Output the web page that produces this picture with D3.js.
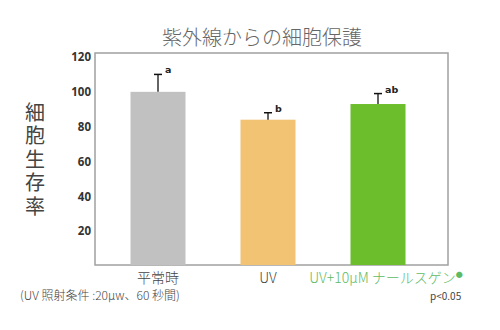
<!DOCTYPE html>
<html lang="ja">
<head>
<meta charset="utf-8" />
<script src="https://cdn.jsdelivr.net/npm/d3@7"></script>
<style>
  body { margin: 0; background: #fff; }
  svg text { font-family: "Noto Sans CJK JP", "Noto Sans", sans-serif; }
  .tick-lbl { font-family: "Open Sans", "DejaVu Sans", sans-serif; font-weight: 700; font-size: 11.5px; fill: #333; }
</style>
</head>
<body>
<div id="chart"></div>
<script>
// data
var categories = ["平常時", "UV", "UV+10μM ナールスゲン"];
var values = [100, 84, 93];
var errors = [10, 4, 6];
var sigLetters = ["a", "b", "ab"];
var barColors = ["#c1c1c1", "#f1c373", "#6dbe2d"];
var yTicks = [20, 40, 60, 80, 100, 120];

var width = 500, height = 330;

var svg = d3.select("#chart")
  .append("svg")
  .attr("width", width)
  .attr("height", height);

var x = d3.scaleBand()
  .domain(categories)
  .range([103, 433])
  .paddingInner(0.5)
  .paddingOuter(0.25);

var y = d3.scaleLinear()
  .domain([0, 120])
  .range([266, 57]);

// title
svg.append("text")
  .attr("x", 262).attr("y", 45)
  .attr("text-anchor", "middle")
  .style("font-size", "20px")
  .style("font-weight", "300")
  .style("fill", "#666")
  .text("紫外線からの細胞保護");

// frame
svg.append("rect")
  .attr("x", 95).attr("y", 53)
  .attr("width", 353).attr("height", 212)
  .attr("fill", "none")
  .attr("stroke", "#a0a0a0")
  .attr("stroke-width", 1.5);

// y tick labels
var yAxis = d3.axisLeft(y).tickValues(yTicks).tickSize(0).tickPadding(0);
var gy = svg.append("g")
  .attr("transform", "translate(91,0)")
  .call(yAxis);
gy.select(".domain").remove();
gy.selectAll("text").attr("class", "tick-lbl").attr("font-family", null).attr("font-size", null);

// y label, written vertically
svg.append("text")
  .attr("x", 35).attr("y", 102)
  .style("writing-mode", "vertical-rl")
  .style("letter-spacing", "3.5px")
  .style("font-size", "20px")
  .style("fill", "#444")
  .text("細胞生存率");

// bars
svg.selectAll("rect.bar")
  .data(values)
  .enter().append("rect")
  .attr("class", "bar")
  .attr("x", function(d, i) { return x(categories[i]); })
  .attr("width", x.bandwidth())
  .attr("y", function(d) { return y(d); })
  .attr("height", function(d) { return y(0) - y(d) - 1; })
  .attr("fill", function(d, i) { return barColors[i]; });

// error bars
var eb = svg.append("g").selectAll("g")
  .data(values)
  .enter().append("g");
eb.append("line")
  .attr("x1", function(d, i) { return x(categories[i]) + x.bandwidth() / 2; })
  .attr("x2", function(d, i) { return x(categories[i]) + x.bandwidth() / 2; })
  .attr("y1", function(d) { return y(d); })
  .attr("y2", function(d, i) { return y(d + errors[i]); })
  .attr("stroke", "#111").attr("stroke-width", 1.3);
eb.append("line")
  .attr("x1", function(d, i) { return x(categories[i]) + x.bandwidth() / 2 - 4; })
  .attr("x2", function(d, i) { return x(categories[i]) + x.bandwidth() / 2 + 4; })
  .attr("y1", function(d, i) { return y(d + errors[i]); })
  .attr("y2", function(d, i) { return y(d + errors[i]); })
  .attr("stroke", "#111").attr("stroke-width", 1.5);
eb.append("text")
  .attr("x", function(d, i) { return x(categories[i]) + x.bandwidth() / 2 + 7; })
  .attr("y", function(d, i) { return y(d + errors[i]) - 1; })
  .style("font-family", "'DejaVu Sans', sans-serif")
  .style("font-weight", "700")
  .style("font-size", "9.5px")
  .style("fill", "#222")
  .text(function(d, i) { return sigLetters[i]; });

// x labels
var xl = svg.append("g").selectAll("text")
  .data(categories)
  .enter().append("text")
  .attr("x", function(d, i) { return x(d) + x.bandwidth() / 2 + (i === 2 ? 8 : 0); })
  .attr("y", 283)
  .attr("text-anchor", "middle")
  .style("font-size", "14px")
  .style("font-weight", "300")
  .style("fill", function(d, i) { return i === 2 ? "#5dbb63" : "#444"; })
  .text(function(d) { return d; });
xl.filter(function(d, i) { return i === 2; })
  .append("tspan")
  .attr("dy", -6)
  .style("font-size", "7px")
  .text("●");

// notes
svg.append("text")
  .attr("x", 20).attr("y", 300)
  .style("font-size", "12px")
  .style("font-weight", "300")
  .style("fill", "#444")
  .text("(UV 照射条件 :20μw、60 秒間)");
svg.append("text")
  .attr("x", 430).attr("y", 300)
  .style("font-size", "10px")
  .style("fill", "#444")
  .text("p<0.05");
</script>
</body>
</html>
